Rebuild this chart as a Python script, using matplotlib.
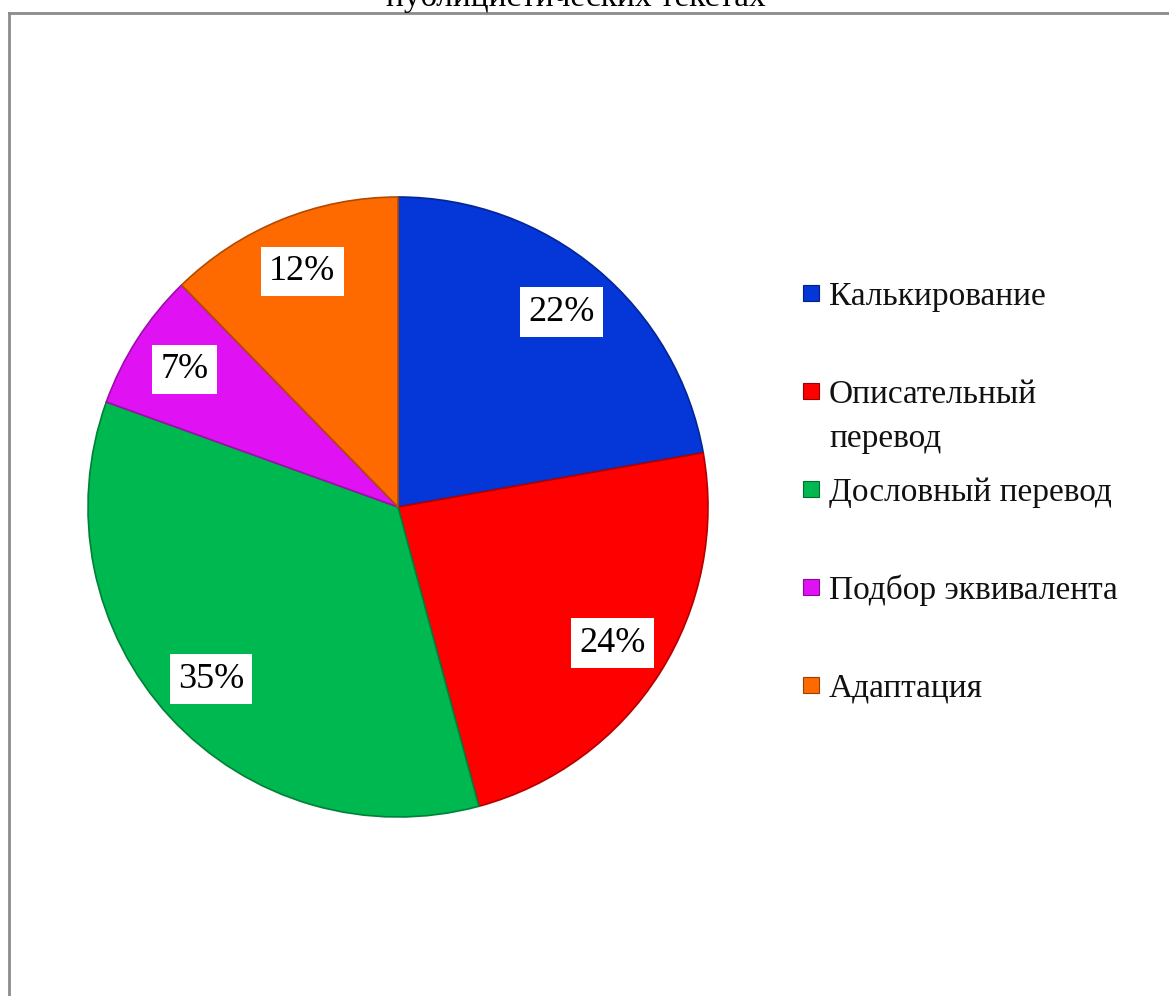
import matplotlib
matplotlib.use('Agg')
import matplotlib.pyplot as plt
from matplotlib.lines import Line2D
from matplotlib.patches import Rectangle
import matplotlib.colors as mcolors

plt.rcParams['font.family'] = ['Liberation Serif', 'DejaVu Serif']

# data
labels = ['Калькирование', 'Описательный\nперевод', 'Дословный перевод',
          'Подбор эквивалента', 'Адаптация']
shares = [22.2, 23.6, 34.7, 7.2, 12.3]     # slice sizes as measured
pct_labels = ['22%', '24%', '35%', '7%', '12%']
colors = ['#0436d8', '#ff0000', '#00b850', '#e012f4', '#ff6a00']
title = 'публицистических текстах'

W, H = 1169, 996
fig = plt.figure(figsize=(W / 100, H / 100), dpi=100)

# pie axes: centre (398, 507) px, radius 310 px
cx, cy, r = 398, 507, 310
ax = fig.add_axes([(cx - r) / W, (H - cy - r) / H, 2 * r / W, 2 * r / H])

def darker(c, f=0.7):
    rgb = mcolors.to_rgb(c)
    return tuple(v * f for v in rgb)

wedges, texts = ax.pie(shares, colors=colors, startangle=90, counterclock=False,
                       radius=1, labels=pct_labels, labeldistance=0.82,
                       wedgeprops=dict(linewidth=1.2))
for w, c in zip(wedges, colors):
    w.set_edgecolor(darker(c))
for t in texts:
    t.set_fontsize(26)
    t.set_ha('center')
    t.set_va('center')
    t.set_bbox(dict(facecolor='white', edgecolor='none', pad=6))
ax.set_xlim(-1, 1)
ax.set_ylim(-1, 1)
ax.axis('off')

# legend drawn by hand to match spacing
lx, ly0, step, line_h = 803, 293, 98, 44
sq = 16
for i, (lab, c) in enumerate(zip(labels, colors)):
    y = ly0 + i * step
    fig.patches.append(Rectangle(((lx) / W, (H - y - sq / 2) / H), sq / W, sq / H,
                                 transform=fig.transFigure, facecolor=c,
                                 edgecolor=darker(c, 0.6), linewidth=0.8))
    for j, line in enumerate(lab.split('\n')):
        fig.text((lx + sq + 10) / W, (H - y - j * line_h) / H, line, fontsize=24,
                 ha='left', va='center_baseline', color='#111111')

# chart frame (extends beyond right and bottom edge)
fx, fy = 8.5, 13.5
fig.add_artist(Line2D([fx / W, fx / W], [0, 1 - fy / H], transform=fig.transFigure,
                      color='#8c8c8c', linewidth=2))
fig.add_artist(Line2D([fx / W, 1], [1 - fy / H, 1 - fy / H], transform=fig.transFigure,
                      color='#8c8c8c', linewidth=2))

# title, mostly cut off by the top edge (as in the reference)
fig.text(576 / W, 1 - 6 / H, title, fontsize=24, ha='center', va='baseline')

fig.savefig('out.png', dpi=100)
